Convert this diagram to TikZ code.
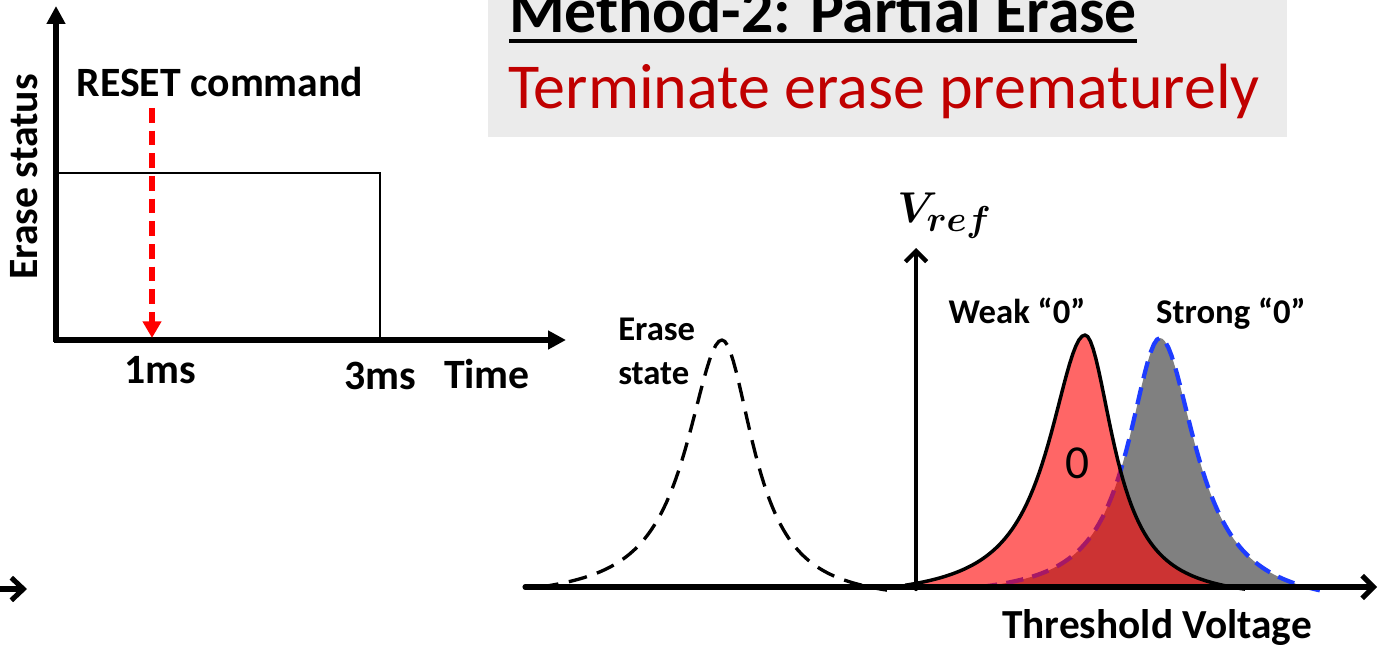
\documentclass[tikz,border=0pt]{standalone}
\usepackage{fontspec}
\setmainfont{Carlito}
\usetikzlibrary{arrows.meta,positioning,calc}

\definecolor{slidegray}{HTML}{EBEBEB}
\definecolor{titlered}{HTML}{C00000}
\definecolor{dashblue}{HTML}{1E3CFF}

\begin{document}
\begin{tikzpicture}[x=0.75pt,y=-0.75pt,
    declare function={lor(\t,\m,\w,\h,\q)=(\h+\q)/(1+((\t-\m)/\w)^2)-\q;},
    lbl/.style={font=\bfseries\fontsize{31.3}{37}\selectfont, inner sep=0pt},
    smalllbl/.style={font=\bfseries\fontsize{26}{33}\selectfont, inner sep=0pt},
    timeaxis/.style={line width=3.8pt, -{Triangle[length=13.5pt,width=13.5pt]}},
    vtaxis/.style={line width=3.6pt, line cap=round, -{Straight Barb[length=8pt,width=16pt]}},
    resetarrow/.style={red, line width=4pt, dash pattern=on 11pt off 6pt, -{Triangle[length=12.5pt,width=13.5pt]}},
    erasecurve/.style={black, line width=2.5pt, dash pattern=on 14pt off 8pt},
    strongline/.style={dashblue, line width=3.2pt, dash pattern=on 13pt off 7pt},
    weakline/.style={black, line width=2.6pt},
]
    \clip (0,0) rectangle (1384,656);

    % Title box
    \fill[slidegray] (488,-10) rectangle (1287,137);
    \node[font=\bfseries\fontsize{47.8}{57}\selectfont, inner sep=0pt, anchor=base west] (title) at (509,33) {Method-2: Partial Erase};
    \draw[line width=2.3pt] ([yshift=-6pt]title.base west) -- ([yshift=-6pt]title.base east);
    \node[font=\fontsize{48}{57}\selectfont, titlered, inner sep=0pt, anchor=base west] (subtitle) at (508,109) {Terminate erase prematurely};

    % Erase status vs time
    \begin{scope}
        \coordinate (o1) at (56,340);
        \coordinate (ytop) at (56,6);
        \coordinate (xend) at (566,340);
        \coordinate (hi0) at (56,173);
        \coordinate (hi3) at (380,173);
        \coordinate (t3) at (380,340);
        \coordinate (cmd) at (152,108);
        \coordinate (t1) at (152,338);
        \draw[line width=1.5pt] (hi0) -- (hi3) -- (t3);
        \draw[timeaxis] ([yshift=-1.4pt]o1) -- (ytop);
        \draw[timeaxis] ([xshift=-1.4pt]o1) -- (xend);
        \draw[resetarrow] (cmd) -- (t1);
        \node[lbl, rotate=90, anchor=base] (ylab) at (37,177) {Erase status};
        \node[lbl, anchor=base] (reset) at (220,97) {RESET command};
        \node[lbl, anchor=base] (t1lab) at (160,383) {1ms};
        \node[lbl, anchor=base] (t3lab) at (380,389) {3ms};
        \node[lbl, anchor=base] (timelab) at (487,388) {Time};
        % cut-off arrow at the left edge
        \coordinate (cutstart) at (-5,589);
        \coordinate (cutend) at (27,589);
        \draw[vtaxis, line width=3.8pt, -{Straight Barb[length=9pt,width=17pt]}] (cutstart) -- (cutend);
    \end{scope}

    % Threshold voltage distributions
    \begin{scope}
        \coordinate (o2) at (525,587);
        \coordinate (vend) at (1377,587);
        \coordinate (vb) at (916,589);
        \coordinate (vtop) at (916,248);
        \draw[vtaxis, line width=3.2pt] (vb) -- (vtop);
        % erase state
        \draw[erasecurve] plot[domain=540:722, samples=60] (\x,{587-lor(\x,722,43.3,247,14)})
            -- plot[domain=722:887, samples=60] (\x,{587-lor(\x,722,38.3,247,16.6)});
        % strong "0"
        \fill[gray] (980,587) -- plot[domain=980:1160, samples=60] (\x,{587-lor(\x,1160,38.7,249,11.5)})
            -- plot[domain=1160:1306, samples=60] (\x,{587-lor(\x,1160,43.5,249,22)}) -- cycle;
        \draw[strongline] plot[domain=980:1160, samples=60] (\x,{587-lor(\x,1160,38.7,249,11.5)})
            -- plot[domain=1160:1328, samples=60] (\x,{587-lor(\x,1160,43.5,249,22)});
        % weak "0"
        \fill[red, fill opacity=0.6] (905,587) -- plot[domain=905:1085, samples=60] (\x,{587-lor(\x,1085,44.1,252,13.3)})
            -- plot[domain=1085:1232, samples=60] (\x,{587-lor(\x,1085,34.8,252,14.2)}) -- cycle;
        \draw[weakline] plot[domain=905:1085, samples=60] (\x,{587-lor(\x,1085,44.1,252,13.3)})
            -- plot[domain=1085:1245, samples=60] (\x,{587-lor(\x,1085,34.8,252,14.2)});
        \draw[vtaxis, line width=3.8pt, -{Straight Barb[length=8.5pt,width=17pt]}] (o2) -- (vend);
        \node[font=\fontsize{24.88}{30}\selectfont\boldmath, inner sep=0pt, anchor=base west] (vref) at (897,222) {\scalebox{1.3}{$V_{ref}$}};
        \node[smalllbl, anchor=base west, align=left] (erase) at (618,384) {Erase\\state};
        \node[smalllbl, anchor=base] (weak) at (1017,323) {Weak “0”};
        \node[smalllbl, anchor=base] (strong) at (1231,323) {Strong “0”};
        \node[font=\fontsize{35.5}{42}\selectfont, inner sep=0pt, anchor=base] (zero) at (1077,478) {0};
        \node[font=\bfseries\fontsize{31}{36}\selectfont, inner sep=0pt, anchor=base] (thv) at (1157,638) {Threshold Voltage};
    \end{scope}
\end{tikzpicture}
\end{document}
